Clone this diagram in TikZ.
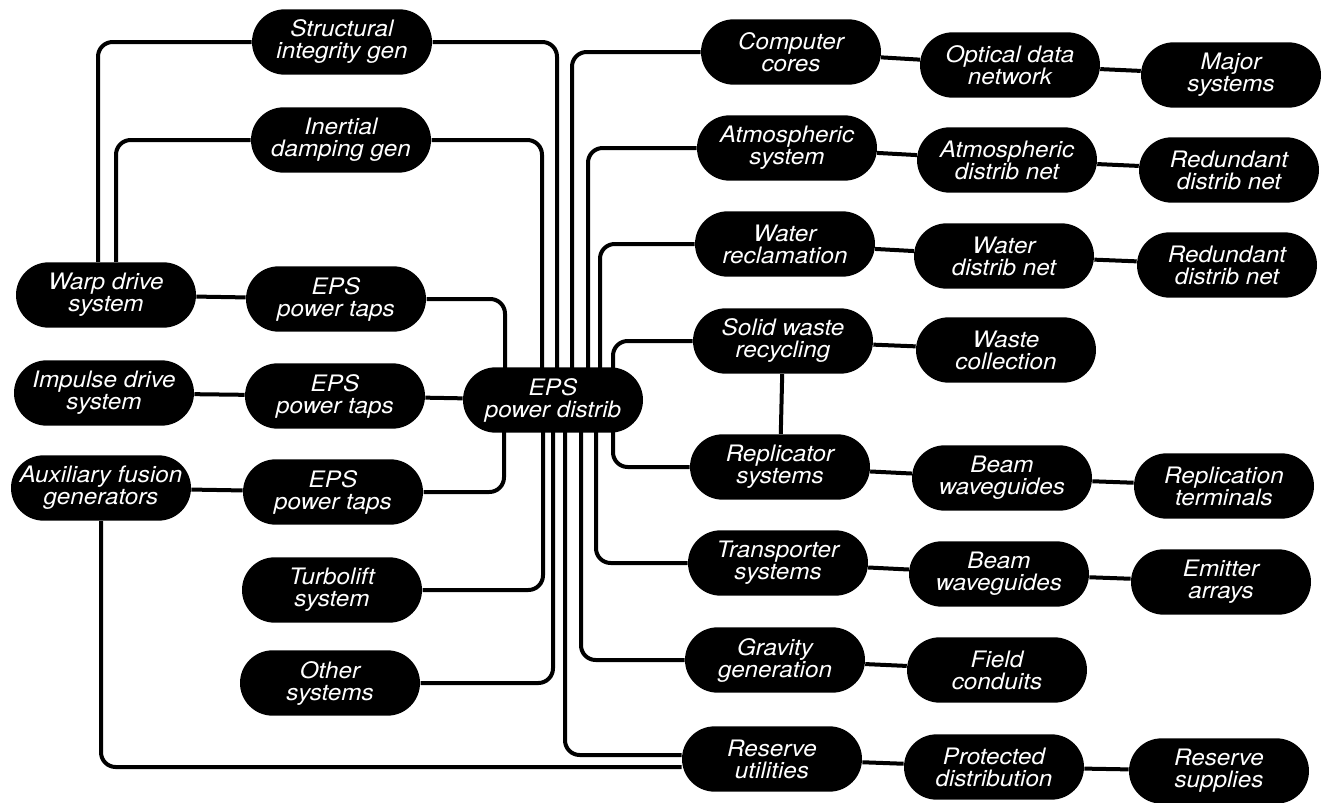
\documentclass[tikz,border=0pt]{standalone}
\usepackage{fontspec}
\setmainfont{TeX Gyre Heros}
\newfontfamily\boxfont[FakeStretch=1.07]{TeX Gyre Heros}
\usetikzlibrary{shapes.misc,calc}
\pgfdeclarelayer{background}
\pgfsetlayers{background,main}

\begin{document}
\begin{tikzpicture}[
            x=0.75pt,
            y=0.75pt,
            yscale=-1,
            xscale=1,
            box/.style={rounded rectangle, fill=black, text=white, minimum width=139pt, minimum height=49pt, inner sep=2pt, align=center, font=\fontsize{17}{16.5}\boxfont\itshape},
            wire/.style={draw=black, line width=3pt, rounded corners=11pt},
            line width=0.75pt
        ]
            \useasboundingbox (0,0) rectangle (1329,803);

            % left side
            \node[box] (warp) at (106,295) {Warp drive\\system};
            \node[box] (impulse) at (104,393) {Impulse drive\\system};
            \node[box] (aux) at (101,488) {Auxiliary fusion\\generators};
            \node[box] (structgen) at (342,42) {Structural\\integrity gen};
            \node[box] (inertial) at (341,140) {Inertial\\damping gen};
            \node[box] (taps1) at (336,299) {EPS\\power taps};
            \node[box] (taps2) at (335,396) {EPS\\power taps};
            \node[box] (taps3) at (333,492) {EPS\\power taps};
            \node[box] (turbo) at (332,590) {Turbolift\\system};
            \node[box] (other) at (330,683) {Other\\systems};
            \node[box] (distrib) at (553,400) {EPS\\power distrib};

            % right side
            \node[box] (cores) at (791,52) {Computer\\cores};
            \node[box] (atmos) at (787,148) {Atmospheric\\system};
            \node[box] (water) at (785,244) {Water\\reclamation};
            \node[box] (solid) at (783,341) {Solid waste\\recycling};
            \node[box] (repl) at (780,467) {Replicator\\systems};
            \node[box] (transp) at (778,563) {Transporter\\systems};
            \node[box] (gravity) at (775,660) {Gravity\\generation};
            \node[box] (reserve) at (772,759) {Reserve\\utilities};

            \node[box] (optical) at (1010,65) {Optical data\\network};
            \node[box] (atmosnet) at (1007,160) {Atmospheric\\distrib net};
            \node[box] (waternet) at (1004,256) {Water\\distrib net};
            \node[box] (collect) at (1006,350) {Waste\\collection};
            \node[box] (beamA) at (1002,478) {Beam\\waveguides};
            \node[box] (beamB) at (999,574) {Beam\\waveguides};
            \node[box] (field) at (997,670) {Field\\conduits};
            \node[box] (protect) at (994,767) {Protected\\distribution};

            \node[box] (major) at (1231,75) {Major\\systems};
            \node[box] (redundA) at (1229,170) {Redundant\\distrib net};
            \node[box] (redundB) at (1227,265) {Redundant\\distrib net};
            \node[box] (terminals) at (1224,486) {Replication\\terminals};
            \node[box] (emitter) at (1221,582) {Emitter\\arrays};
            \node[box] (supplies) at (1219,771) {Reserve\\supplies};

            \begin{pgfonlayer}{background}
            % feeds on the left
            \draw[wire] ($(warp.north)+(-8,0)$) |- (structgen.west);
            \draw[wire] ($(warp.north)+(10,0)$) |- (inertial.west);
            \draw[wire] (warp) -- (taps1);
            \draw[wire] (impulse) -- (taps2);
            \draw[wire] (aux) -- (taps3);
            \draw[wire] (aux.south) |- ($(reserve.west)+(0,8)$);

            % bus into EPS power distrib
            \draw[wire] (structgen.east) -| ($(distrib.center)+(4,0)$);
            \draw[wire] (inertial.east) -| ($(distrib.center)+(-11,0)$);
            \draw[wire] (taps1.east) -| ($(distrib.center)+(-48,0)$);
            \draw[wire] (taps2) -- (distrib);
            \draw[wire] (taps3.east) -| ($(distrib.center)+(-49,0)$);
            \draw[wire] (turbo.east) -| ($(distrib.center)+(-10,0)$);
            \draw[wire] (other.east) -| ($(distrib.center)+(0,0)$);
            \draw[wire] (cores.west) -| ($(distrib.center)+(19,0)$);
            \draw[wire] (atmos.west) -| ($(distrib.center)+(35,0)$);
            \draw[wire] (water.west) -| ($(distrib.center)+(47,0)$);
            \draw[wire] (solid.west) -| ($(distrib.center)+(60,0)$);
            \draw[wire] (repl.west) -| ($(distrib.center)+(60,0)$);
            \draw[wire] (transp.west) -| ($(distrib.center)+(43,0)$);
            \draw[wire] (gravity.west) -| ($(distrib.center)+(28,0)$);
            \draw[wire] ($(reserve.west)+(0,-4)$) -| ($(distrib.center)+(12,0)$);

            % chains on the right
            \draw[wire] (cores) -- (optical) -- (major);
            \draw[wire] (atmos) -- (atmosnet) -- (redundA);
            \draw[wire] (water) -- (waternet) -- (redundB);
            \draw[wire] (solid) -- (collect);
            \draw[wire] (solid) -- (repl);
            \draw[wire] (repl) -- (beamA) -- (terminals);
            \draw[wire] (transp) -- (beamB) -- (emitter);
            \draw[wire] (gravity) -- (field);
            \draw[wire] (reserve) -- (protect) -- (supplies);
            \end{pgfonlayer}
        \end{tikzpicture}
\end{document}
